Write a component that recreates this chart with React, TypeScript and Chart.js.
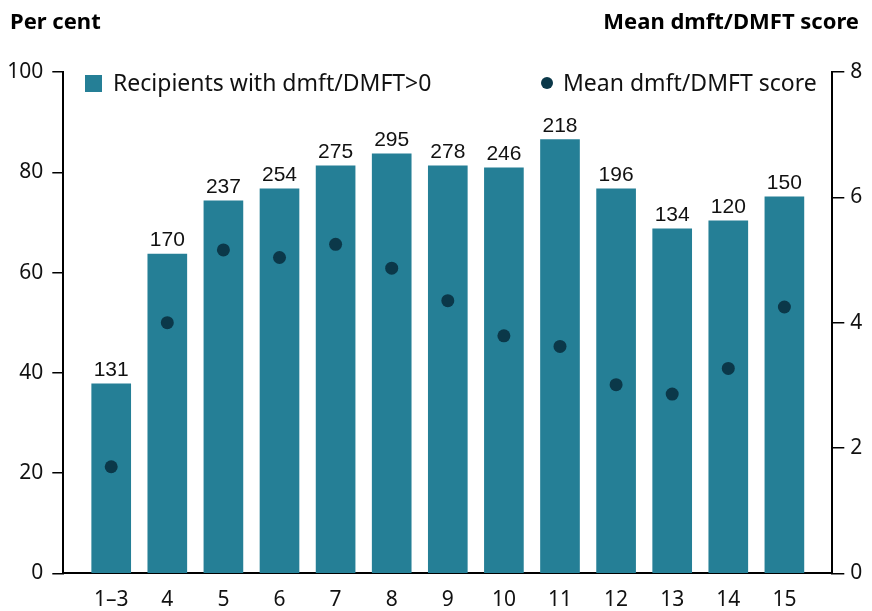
import React, { useEffect, useRef } from "react";
import { Chart, registerables } from "chart.js";

Chart.register(...registerables);

// Age groups (years)
const categories = ["1–3", "4", "5", "6", "7", "8", "9", "10", "11", "12", "13", "14", "15"];
// Per cent of recipients with dmft/DMFT > 0
const pctWithDecay = [37.8, 63.7, 74.3, 76.7, 81.3, 83.7, 81.3, 80.9, 86.5, 76.7, 68.7, 70.3, 75.1];
// Number of recipients with dmft/DMFT > 0 (printed above bars)
const recipientCounts = [131, 170, 237, 254, 275, 295, 278, 246, 218, 196, 134, 120, 150];
// Mean dmft/DMFT score
const meanScore = [1.7, 4.0, 5.16, 5.04, 5.25, 4.87, 4.35, 3.79, 3.62, 3.01, 2.86, 3.27, 4.25];

const leftTicks = [0, 20, 40, 60, 80, 100];
const rightTicks = [0, 2, 4, 6, 8];

const BAR_COLOR = "#257f96";
const DOT_COLOR = "#0b3849";
const SANS = "'Noto Sans', 'Open Sans', sans-serif";

const overlay = {
  id: "overlay",
  afterDatasetsDraw(chart: any) {
    const ctx = chart.ctx;
    const meta = chart.getDatasetMeta(0);
    ctx.save();
    // counts above bars
    ctx.fillStyle = "#111";
    ctx.font = "21px 'Liberation Sans', Arial, sans-serif";
    ctx.textAlign = "center";
    ctx.textBaseline = "alphabetic";
    meta.data.forEach((el: any, i: number) => {
      ctx.fillText(String(recipientCounts[i]), el.x, el.y - 8);
    });
    ctx.restore();
  },
  afterDraw(chart: any) {
    const ctx = chart.ctx;
    ctx.save();
    ctx.fillStyle = "#000";
    // axis titles
    ctx.font = `bold 22px ${SANS}`;
    ctx.textBaseline = "alphabetic";
    ctx.textAlign = "left";
    ctx.fillText("Per cent", 10, 29);
    ctx.textAlign = "right";
    ctx.fillText("Mean dmft/DMFT score", 859, 29);

    // legend
    ctx.font = `23px ${SANS}`;
    ctx.fillStyle = BAR_COLOR;
    ctx.fillRect(85, 75, 17, 17);
    ctx.fillStyle = "#111";
    ctx.textAlign = "left";
    ctx.fillText("Recipients with dmft/DMFT>0", 113, 91);

    ctx.fillStyle = DOT_COLOR;
    ctx.beginPath();
    ctx.arc(547, 83, 6, 0, Math.PI * 2);
    ctx.fill();
    ctx.fillStyle = "#111";
    ctx.fillText("Mean dmft/DMFT score", 563, 91);
    ctx.restore();
  },
};

export default function App() {
  const ref = useRef<HTMLCanvasElement>(null);

  useEffect(() => {
    const canvas = ref.current;
    if (!canvas) return;
    const chart = new Chart(canvas, {
      type: "bar",
      data: {
        datasets: [
          {
            type: "bar",
            label: "Recipients with dmft/DMFT>0",
            data: pctWithDecay.map((v, i) => ({ x: i, y: v })),
            backgroundColor: BAR_COLOR,
            barThickness: 39,
            yAxisID: "y",
            order: 1,
          },
          {
            type: "line",
            label: "Mean dmft/DMFT score",
            data: meanScore.map((v, i) => ({ x: i, y: v })),
            showLine: false,
            pointRadius: 6.5,
            pointBackgroundColor: DOT_COLOR,
            pointBorderWidth: 0,
            yAxisID: "y1",
            order: 0,
          },
        ],
      },
      options: {
        responsive: false,
        animation: false,
        layout: { padding: { top: 72, left: 0, right: 0, bottom: 0 } },
        plugins: {
          legend: { display: false },
          tooltip: { enabled: false },
        },
        scales: {
          x: {
            type: "linear",
            offset: false,
            min: -0.854,
            max: 12.854,
            afterBuildTicks: (s: any) => {
              s.ticks = categories.map((_, i) => ({ value: i }));
            },
            afterFit: (s: any) => {
              s.height = 37.7;
            },
            grid: { display: false, drawTicks: false, offset: false },
            border: { display: true, color: "#000", width: 2 },
            ticks: {
              autoSkip: false,
              maxRotation: 0,
              padding: 14,
              color: "#111",
              font: { family: SANS, size: 21 },
              callback: (v: any) => categories[v] ?? "",
            },
          },
          y: {
            type: "linear",
            position: "left",
            min: 0,
            max: 100,
            afterBuildTicks: (s: any) => {
              s.ticks = leftTicks.map((v) => ({ value: v }));
            },
            afterFit: (s: any) => {
              s.width = 63.3;
            },
            grid: { drawOnChartArea: false, drawTicks: true, tickLength: 11, color: "#000", lineWidth: 1.5 },
            border: { display: true, color: "#000", width: 2 },
            ticks: { padding: 9, color: "#111", font: { family: SANS, size: 21 } },
          },
          y1: {
            type: "linear",
            position: "right",
            min: 0,
            max: 8,
            afterBuildTicks: (s: any) => {
              s.ticks = rightTicks.map((v) => ({ value: v }));
            },
            afterFit: (s: any) => {
              s.width = 39.7;
            },
            grid: { drawOnChartArea: false, drawTicks: true, tickLength: 12, color: "#000", lineWidth: 1.5 },
            border: { display: true, color: "#000", width: 2 },
            ticks: { padding: 6, color: "#111", font: { family: SANS, size: 21 } },
          },
        },
      },
      plugins: [overlay],
    });
    return () => chart.destroy();
  }, []);

  return (
    <div style={{ position: "fixed", left: 0, top: 0, width: 872, height: 611, background: "#fff" }}>
      <canvas ref={ref} width={872} height={611} style={{ display: "block" }} />
    </div>
  );
}
